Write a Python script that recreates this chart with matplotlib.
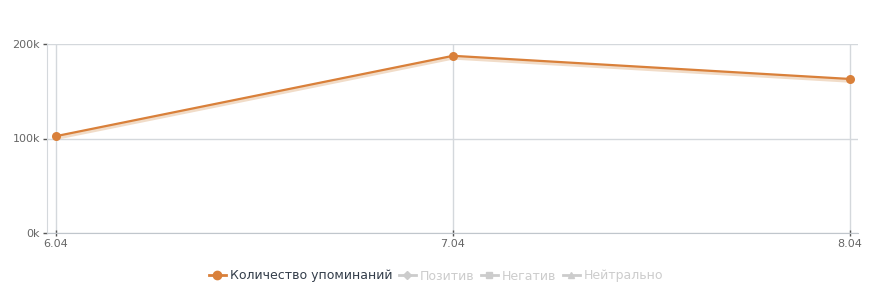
"""
mentions per day line chart
"""

import matplotlib
matplotlib.use("Agg")
import matplotlib.pyplot as plt
from matplotlib.lines import Line2D
from matplotlib.ticker import FuncFormatter

dates = ["6.04", "7.04", "8.04"]
mentions = [102500, 187500, 163000]
series_names = ["Количество упоминаний", "Позитив", "Негатив", "Нейтрально"]

ORANGE = "#d9803a"
GRID = "#d4d8dc"
MUTED = "#cccccc"

plt.rcParams["font.family"] = ["DejaVu Sans"]

fig = plt.figure(figsize=(8.7, 2.96), dpi=100)
ax = fig.add_axes([47 / 870, 63 / 296, (858 - 47) / 870, (233 - 44) / 296])

x = list(range(len(dates)))
# soft shadow under the line
ax.plot(x, [v - 1800 for v in mentions], color="#f1dcc8", lw=3, zorder=2,
        solid_capstyle="round")
ax.plot(x, mentions, color=ORANGE, lw=1.6, marker="o", markersize=6.5,
        markeredgewidth=0, zorder=3)

ax.set_xlim(-9 / 397, 2 + 8 / 397)
ax.set_ylim(0, 200000)
ax.set_xticks(x)
ax.set_xticklabels(dates)
ax.set_yticks([0, 100000, 200000])
ax.yaxis.set_major_formatter(FuncFormatter(lambda v, p: f"{int(v / 1000)}k"))

ax.grid(True, color=GRID, lw=1)
ax.set_axisbelow(True)
for side in ["top", "right"]:
    ax.spines[side].set_visible(False)
ax.spines["left"].set_color(GRID)
ax.spines["bottom"].set_color("#c0c6cc")
ax.tick_params(axis="both", colors="#555555", labelsize=8, length=3,
               width=1)
ax.tick_params(axis="x", direction="inout", pad=2, length=5)
ax.tick_params(axis="y", pad=2)
for lbl in ax.get_xticklabels() + ax.get_yticklabels():
    lbl.set_color("#666666")

handles = [
    Line2D([], [], color=ORANGE, marker="o", markersize=6, lw=2),
    Line2D([], [], color=MUTED, marker="D", markersize=4, lw=2),
    Line2D([], [], color=MUTED, marker="s", markersize=5, lw=2),
    Line2D([], [], color=MUTED, marker="^", markersize=5, lw=2),
]
leg = fig.legend(handles, series_names, loc="center", ncol=4,
                 bbox_to_anchor=(436 / 870, 1 - 276 / 296), frameon=False,
                 fontsize=9, handlelength=1.4, handletextpad=0.3,
                 columnspacing=0.5)
texts = leg.get_texts()
texts[0].set_color("#333d4a")
for t in texts[1:]:
    t.set_color(MUTED)

fig.savefig("out.png", dpi=100)
